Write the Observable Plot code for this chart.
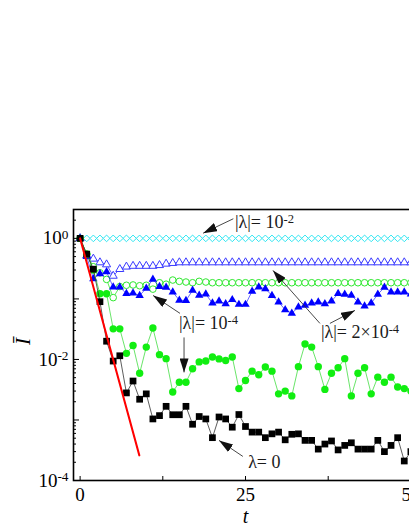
<!DOCTYPE html>
<html><head><meta charset="utf-8">
<script src="https://cdn.jsdelivr.net/npm/d3@7"></script>
<script src="https://cdn.jsdelivr.net/npm/@observablehq/plot@0.6"></script>
<style>html,body{margin:0;padding:0;overflow:hidden;background:#fff;width:409px;height:529px}
#chart svg{max-width:none !important;}</style>
</head><body><div id="chart"></div><script>
const tValues = [0,1,2,3,4,5,6,7,8,9,10,11,12,13,14,15,16,17,18,19,20,21,22,23,24,25,26,27,28,29,30,31,32,33,34,35,36,37,38,39,40,41,42,43,44,45,46,47,48,49,50];

// |λ| = 1e-2 (open cyan diamonds)
const lam1e2 = [1,1,1,1,1,1,1,1,1,1,1,1,1,1,1,1,1,1,1,1,1,1,1,1,1,1,1,1,1,1,1,1,1,1,1,1,1,1,1,1,1,1,1,1,1,1,1,1,1,1,1];
// |λ| = 2e-4 (open blue triangles)
const lam2e4Open = [1,0.52,0.46,0.40,0.37,0.24,0.31,0.34,0.35,0.35,0.35,0.35,0.36,0.38,0.39,0.40,0.40,0.40,0.40,0.40,0.40,0.40,0.40,0.40,0.40,0.40,0.40,0.40,0.40,0.40,0.40,0.40,0.40,0.40,0.40,0.40,0.40,0.40,0.40,0.40,0.40,0.40,0.40,0.40,0.40,0.40,0.40,0.40,0.40,0.40,0.40];
// |λ| = 1e-4 (open green circles)
const lam1e4Open = [1,0.55,0.34,0.27,0.21,0.105,0.16,0.168,0.17,0.165,0.168,0.145,0.185,0.175,0.205,0.195,0.19,0.185,0.195,0.19,0.185,0.185,0.185,0.185,0.185,0.185,0.185,0.185,0.185,0.185,0.185,0.185,0.185,0.185,0.185,0.185,0.185,0.185,0.185,0.185,0.185,0.185,0.185,0.185,0.185,0.185,0.185,0.185,0.185,0.185,0.185];
// |λ| = 2e-4 (filled blue triangles)
const lam2e4Fill = [1,0.5,0.215,0.26,0.28,0.157,0.157,0.122,0.125,0.114,0.15,0.21,0.16,0.155,0.13,0.095,0.094,0.138,0.115,0.12,0.085,0.092,0.083,0.097,0.081,0.081,0.134,0.157,0.147,0.114,0.089,0.066,0.058,0.073,0.078,0.085,0.089,0.083,0.092,0.122,0.119,0.115,0.089,0.076,0.085,0.119,0.155,0.13,0.13,0.13,0.12];
// |λ| = 1e-4 (filled green circles)
const lam1e4Fill = [1,0.55,0.3,0.122,0.122,0.032,0.032,0.0126,0.017,0.0059,0.016,0.033,0.012,0.0103,0.0029,0.0042,0.0042,0.0070,0.0091,0.0094,0.011,0.0102,0.0096,0.011,0.0033,0.0045,0.0064,0.0056,0.0075,0.0064,0.0027,0.0030,0.0025,0.0076,0.018,0.016,0.0076,0.0032,0.0059,0.0073,0.0103,0.0025,0.0059,0.0073,0.0027,0.0051,0.0042,0.0051,0.0035,0.0033,0.003];
// λ = 0 (filled black squares)
const lam0 = [1,0.55,0.31,0.09,0.020,0.0094,0.0115,0.0028,0.0044,0.0022,0.0027,0.00104,0.00118,0.00168,0.00122,0.00122,0.00168,0.00085,0.00114,0.00104,0.00051,0.00112,0.00104,0.00076,0.00123,0.00078,0.00063,0.00063,0.00051,0.00059,0.00063,0.00047,0.00058,0.00059,0.00046,0.00046,0.00033,0.0004,0.00045,0.00032,0.00038,0.00042,0.00033,0.00033,0.00033,0.00046,0.0003,0.00038,0.00051,0.00021,0.0003];
// red theoretical curve
const redT = [0, 8.95];
const redV = [1, 2.6e-4];

const xTickAll = [0, 12.5, 25, 37.5, 50];
const xTickLabels = [0, 25, 50];
const yLabelTicks = [1, 1e-2, 1e-4];
const yLabelText = ["10⁰", "10⁻²", "10⁻⁴"];
const yMajor = [1, 1e-1, 1e-2, 1e-3, 1e-4];
const yMinor = [1e-4,1e-3,1e-2,1e-1,1].flatMap(d => [2,3,4,5,6,7,8,9].map(k => k*d)).filter(v => v < 3);

const annText = ["|λ|= 10⁻²", "|λ|= 2×10⁻⁴", "|λ|= 10⁻⁴", "λ= 0"];
const annT = [23.4, 36.4, 14.95, 25.4];
const annV = [1.46, 0.0223, 0.0314, 1.58e-4];
const arrT1 = [23.16, 36.25, 37.76, 15.1, 15.71, 24.6];
const arrV1 = [2.11, 0.0394, 0.0394, 0.0577, 0.0231, 2.5e-4];
const arrT2 = [18.6, 29.15, 41.54, 11.03, 15.71, 21.0];
const arrV2 = [1.22, 0.296, 0.0646, 0.114, 0.0061, 4.6e-4];

const rows = vals => tValues.map((t, i) => ({t, v: vals[i]}));
const red = redT.map((t, i) => ({t, v: redV[i]}));
const ann = annText.map((s, i) => ({s, t: annT[i], v: annV[i]}));
const arrows = arrT1.map((t, i) => ({t1: t, v1: arrV1[i], t2: arrT2[i], v2: arrV2[i]}));
const labelMap = new Map(yLabelTicks.map((d, i) => [d, yLabelText[i]]));

const FONT = "Liberation Serif";
const cyan = "#2ee6f2", blueOpen = "#3a3aff", blue = "#0000ff", greenOpen = "#2ee82e", green = "#11ee11";

const svg = Plot.plot({
  width: 440, height: 529,
  marginTop: 209, marginBottom: 49, marginLeft: 73, marginRight: 23,
  style: {fontFamily: FONT, background: "white", color: "black", maxWidth: "none"},
  x: {domain: [-1, 51]},
  y: {type: "log", domain: [1e-4, 3]},
  marks: [
    Plot.line(rows(lam1e2), {x: "t", y: "v", stroke: cyan, strokeWidth: 0.8}),
    Plot.dot(rows(lam1e2), {x: "t", y: "v", symbol: "diamond2", r: 3.0, stroke: cyan, strokeWidth: 1, fill: "white"}),
    Plot.line(rows(lam2e4Open), {x: "t", y: "v", stroke: blueOpen, strokeWidth: 0.8}),
    Plot.dot(rows(lam2e4Open), {x: "t", y: "v", symbol: "triangle", r: 3.0, stroke: blueOpen, strokeWidth: 1, fill: "white"}),
    Plot.line(rows(lam1e4Open), {x: "t", y: "v", stroke: greenOpen, strokeWidth: 0.8}),
    Plot.dot(rows(lam1e4Open), {x: "t", y: "v", symbol: "circle", r: 3.3, stroke: greenOpen, strokeWidth: 1, fill: "white"}),
    Plot.line(rows(lam2e4Fill), {x: "t", y: "v", stroke: blue, strokeWidth: 0.6}),
    Plot.dot(rows(lam2e4Fill), {x: "t", y: "v", symbol: "triangle", r: 3.1, fill: blue, stroke: "none"}),
    Plot.line(rows(lam1e4Fill), {x: "t", y: "v", stroke: "#44dd44", strokeWidth: 0.8}),
    Plot.dot(rows(lam1e4Fill), {x: "t", y: "v", symbol: "circle", r: 3.7, fill: green, stroke: "none"}),
    Plot.line(rows(lam0), {x: "t", y: "v", stroke: "#333", strokeWidth: 0.8}),
    Plot.dot(rows(lam0), {x: "t", y: "v", symbol: "square", r: 3.8, fill: "black", stroke: "none"}),
    Plot.line(red, {x: "t", y: "v", stroke: "#ff0000", strokeWidth: 2}),
    Plot.frame({stroke: "black", strokeWidth: 1.6}),
    Plot.axisY({ticks: yMajor, tickSize: -6, fill: "none", label: null, strokeWidth: 1}),
    Plot.axisY({ticks: yMinor, tickSize: -3, fill: "none", label: null, strokeWidth: 1}),
    Plot.axisY({ticks: yLabelTicks, tickSize: 0, tickPadding: 5, tickFormat: d => labelMap.get(d), fontSize: 19, fontFamily: FONT, label: null}),
    Plot.axisX({ticks: xTickAll, tickSize: -4, fill: "none", label: null, strokeWidth: 1}),
    Plot.axisX({ticks: xTickLabels, tickSize: 0, tickPadding: 7, fontSize: 19, fontFamily: FONT, label: null}),
    Plot.text(["t"], {frameAnchor: "bottom", dy: 42, lineAnchor: "bottom", fontStyle: "italic", fontSize: 20, fontFamily: FONT, fill: "black"}),
    Plot.text(["Ī"], {frameAnchor: "left", dx: -50, rotate: -90, fontStyle: "italic", fontSize: 21, fontFamily: FONT, fill: "black"}),
    Plot.text(ann, {x: "t", y: "v", text: "s", textAnchor: "start", lineAnchor: "bottom", fontSize: 18, fontFamily: FONT, fill: "#1a1a1a"}),
    Plot.link(arrows, {x1: "t1", y1: "v1", x2: "t2", y2: "v2", stroke: "#333", strokeWidth: 0.9})
  ]
});

const s = d3.select(svg);
s.style("max-width", "none").style("width", "440px").style("height", "529px");

// render trailing superscript characters as raised smaller tspans
const supChars = {"⁰": "0", "¹": "1", "²": "2", "³": "3", "⁴": "4", "⁻": "-"};
s.selectAll("text").each(function() {
  const el = this;
  if (el.querySelector("tspan")) return;
  const m = el.textContent.match(/^(.*?)([⁰¹²³⁴⁻]+)$/);
  if (!m) return;
  const sup = [...m[2]].map(c => supChars[c]).join("");
  el.textContent = "";
  const sel = d3.select(el);
  sel.append("tspan").text(m[1]);
  sel.append("tspan").attr("dy", "-0.42em").attr("font-size", "0.7em").text(sup);
});

const defs = s.append("defs");
defs.append("marker").attr("id", "ahead").attr("viewBox", "-14 -4.5 14 9")
  .attr("refX", 0).attr("refY", 0).attr("markerWidth", 14).attr("markerHeight", 9)
  .attr("markerUnits", "userSpaceOnUse").attr("orient", "auto")
  .append("path").attr("d", "M0,0L-14,-4.5L-14,4.5Z").attr("fill", "#111");
s.selectAll('g[aria-label="link"] path').attr("marker-end", "url(#ahead)");

document.getElementById("chart").appendChild(svg);
</script></body></html>
